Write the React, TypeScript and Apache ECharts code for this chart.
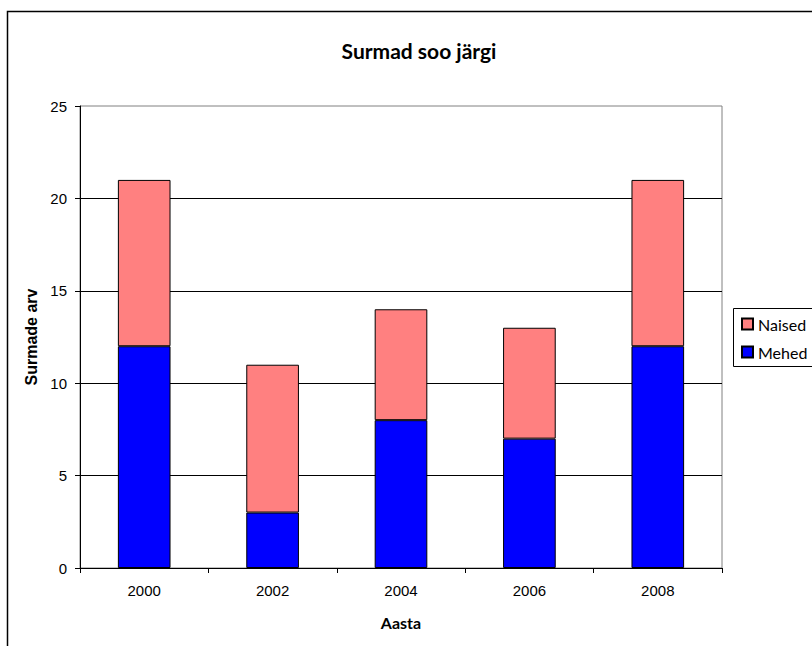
import React, { useEffect, useRef } from "react";
import * as echarts from "echarts";

const years = ["2000", "2002", "2004", "2006", "2008"];
const mehed = [12, 3, 8, 7, 12];
const naised = [9, 8, 6, 6, 9];

export default function App() {
  const ref = useRef<HTMLDivElement>(null);
  useEffect(() => {
    const chart = echarts.init(ref.current!, null, { renderer: "svg" });
    chart.setOption({
      animation: false,
      backgroundColor: "#fff",
      title: {
        text: "Surmad soo järgi",
        left: 414,
        top: 35,
        textAlign: "center",
        textStyle: { fontFamily: "Lato", fontWeight: "bold", fontSize: 21, color: "#000" },
      },
      graphic: [
        {
          type: "rect",
          shape: { x: 7.5, y: 11.5, width: 900, height: 800 },
          style: { fill: "none", stroke: "#000", lineWidth: 1.5 },
          silent: true,
          z: -1,
        },
        {
          type: "rect",
          shape: { x: 733.5, y: 308.5, width: 100, height: 58 },
          style: { fill: "#fff", stroke: "#000", lineWidth: 1 },
          silent: true,
          z: 0,
        },
      ],
      legend: {
        orient: "vertical",
        left: 741,
        top: 316,
        data: ["Naised", "Mehed"],
        icon: "rect",
        itemWidth: 11,
        itemHeight: 11,
        itemGap: 12,
        padding: 0,
        z: 10,
        textStyle: { fontFamily: "Lato", fontSize: 16, color: "#000", padding: [0, 0, 0, 0] },
      },
      grid: {
        left: 80,
        top: 106,
        right: 90,
        bottom: 78,
        show: true,
        borderColor: "#808080",
        borderWidth: 1,
        backgroundColor: "#fff",
      },
      xAxis: {
        type: "category",
        data: years,
        name: "Aasta",
        nameLocation: "middle",
        nameGap: 46,
        nameTextStyle: { fontFamily: "Lato", fontWeight: "bold", fontSize: 16, color: "#000" },
        axisLine: { lineStyle: { color: "#000", width: 1 } },
        axisTick: { show: true, length: 5, lineStyle: { color: "#000" } },
        axisLabel: { fontFamily: "Liberation Sans", fontSize: 15, color: "#000", margin: 15 },
      },
      yAxis: {
        type: "value",
        min: 0,
        max: 25,
        interval: 5,
        name: "Surmade arv",
        nameLocation: "middle",
        nameGap: 35,
        nameTextStyle: { fontFamily: "Liberation Sans", fontWeight: "bold", fontSize: 16, color: "#000" },
        axisLine: { show: true, lineStyle: { color: "#000", width: 1 } },
        axisTick: { show: true, length: 5, lineStyle: { color: "#000" } },
        axisLabel: { fontFamily: "Liberation Sans", fontSize: 15, color: "#000", margin: 13 },
        splitLine: { show: true, showMaxLine: false, lineStyle: { color: "#000", width: 1 } },
      },
      series: [
        {
          name: "Mehed",
          type: "bar",
          stack: "total",
          data: mehed,
          barWidth: "41%",
          itemStyle: { color: "#0000FF", borderColor: "#000", borderWidth: 1 },
        },
        {
          name: "Naised",
          type: "bar",
          stack: "total",
          data: naised,
          barWidth: "41%",
          itemStyle: { color: "#FF8080", borderColor: "#000", borderWidth: 1 },
        },
      ],
    });
    return () => chart.dispose();
  }, []);
  return (
    <div
      ref={ref}
      style={{ position: "absolute", left: 0, top: 0, width: 812, height: 646 }}
    />
  );
}
